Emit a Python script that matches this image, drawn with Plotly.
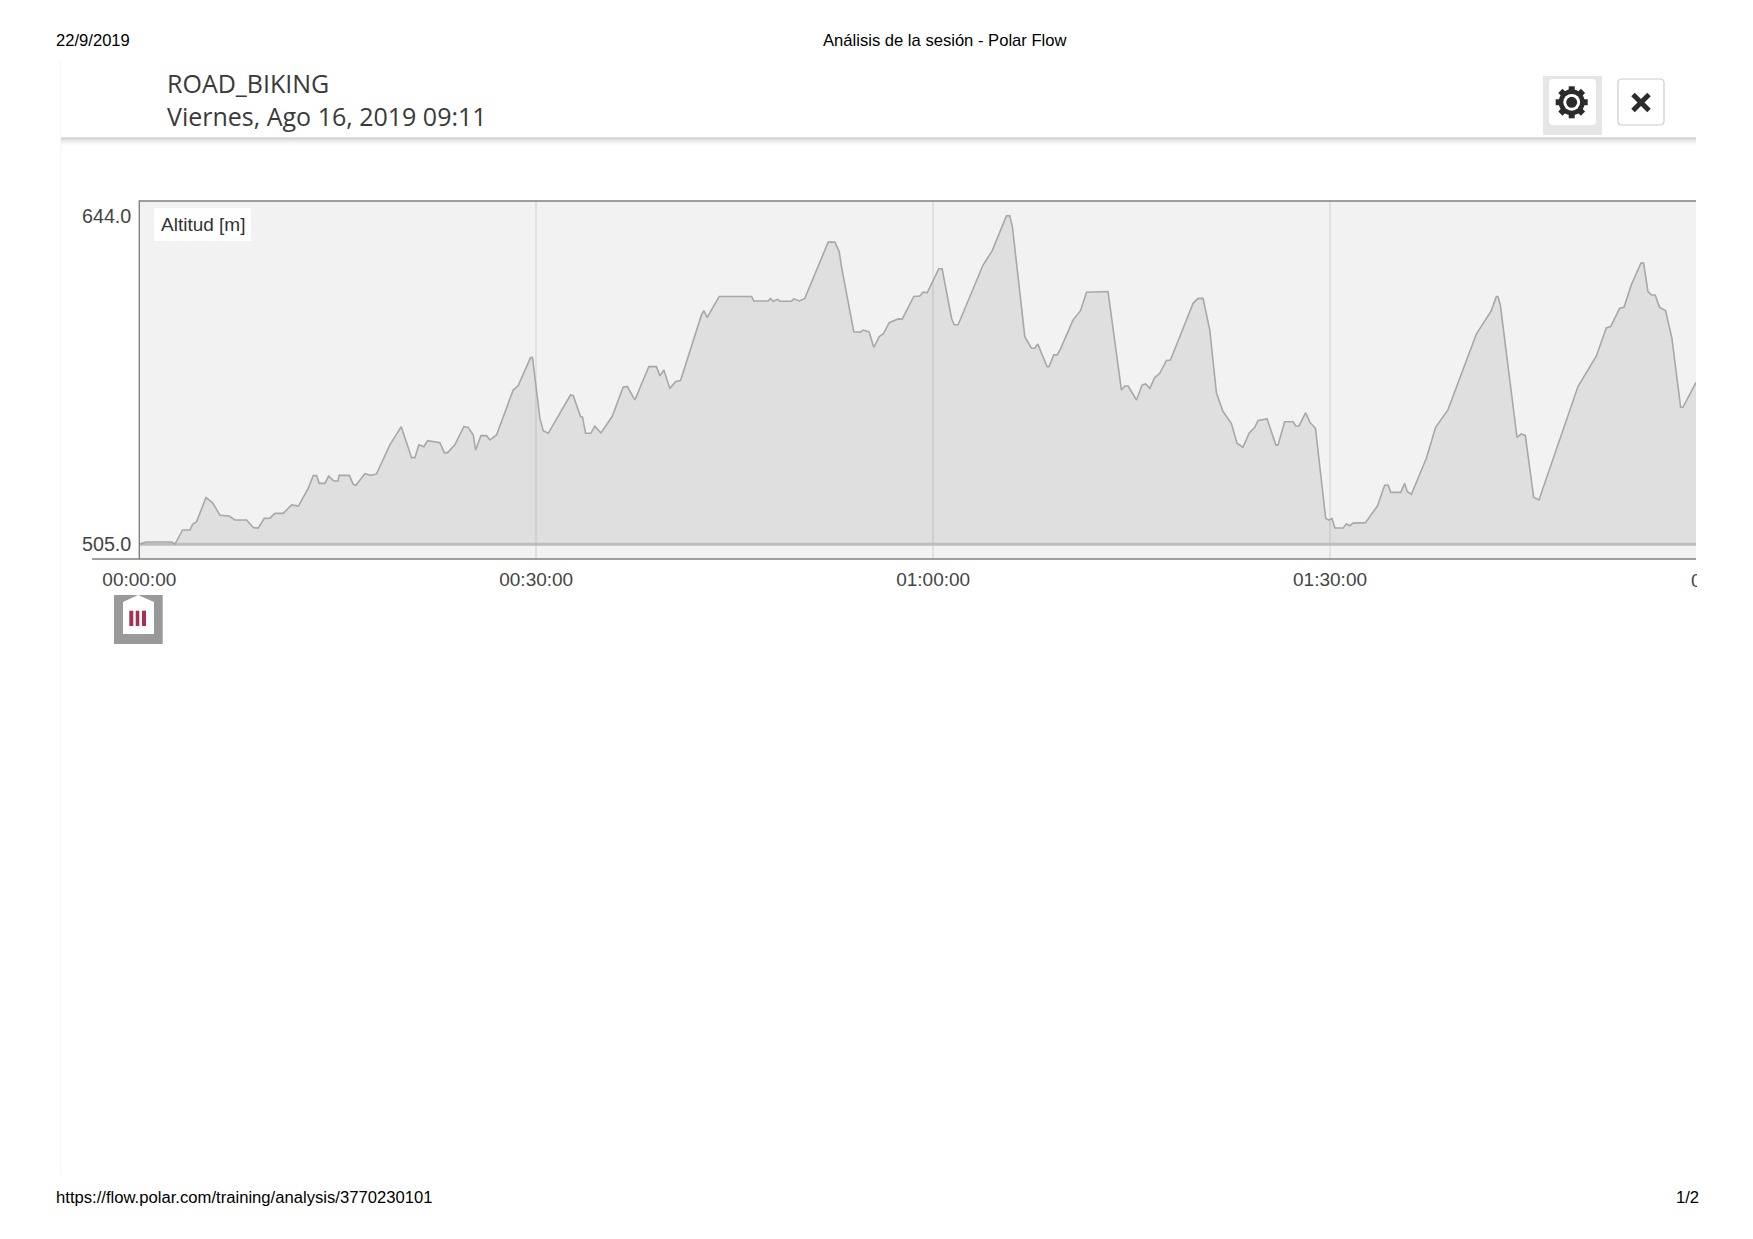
import plotly.graph_objects as go

W, H = 1753, 1239

# ---- chart data: elapsed time (minutes) and altitude (m) ----
minutes = [0,0.50,2.44,2.70,3.27,3.83,4.03,4.33,5.04,5.54,6.10,6.80,7.23,8.11,8.61,8.99,9.45,9.87,10.25,10.88,
 11.51,12.02,12.77,13.15,13.40,13.60,14.03,14.31,14.71,15.01,15.11,15.87,16.17,16.37,17.05,17.48,17.93,18.94,19.80,20.58,
 20.83,21.13,21.51,21.79,22.72,23.05,23.30,23.85,24.53,24.86,25.24,25.42,25.82,26.25,26.50,27.00,28.26,28.64,29.57,29.72,
 30.28,30.53,30.91,32.59,32.80,33.35,33.50,33.73,34.13,34.43,34.89,35.74,36.57,36.88,37.46,38.51,39.09,39.35,39.65,40.10,
 40.55,40.91,42.49,42.67,42.92,43.83,46.27,46.45,47.53,47.71,47.91,48.24,48.42,49.29,49.47,49.88,50.30,52.07,52.57,52.90,
 53.07,54.00,54.51,54.71,55.16,55.52,55.92,56.23,56.68,57.36,57.66,58.54,58.99,59.24,59.55,60.43,60.68,61.39,61.59,61.89,
 63.78,64.46,65.54,65.79,65.99,66.93,67.43,67.68,67.91,68.61,68.76,69.12,69.37,69.62,70.58,71.14,71.59,73.22,74.23,74.49,
 74.74,75.37,75.80,76.07,76.38,76.75,77.13,77.63,77.94,79.65,80.03,80.40,80.91,81.41,81.91,82.54,82.97,83.42,83.88,84.31,
 84.56,85.24,85.90,86.07,86.57,87.21,87.41,87.66,88.16,88.47,88.90,89.67,89.90,90.15,90.36,90.99,91.24,91.49,91.74,92.67,
 93.58,94.13,94.39,94.59,95.34,95.64,95.84,96.15,97.28,97.98,98.91,101.06,102.19,102.57,102.69,102.87,104.13,104.45,104.76,105.39,
 105.79,108.74,110.13,110.88,111.21,111.89,112.22,112.77,113.50,113.70,114.03,114.28,114.58,114.91,115.36,115.84,116.50,116.67,117.66]
altitude = [505.0,506.0,506.0,505.1,511.1,511.1,513.5,514.6,524.8,522.6,517.3,517.0,515.3,515.3,512.1,511.9,516.0,516.1,518.1,518.1,
 521.7,521.2,528.7,534.1,534.1,530.8,530.8,533.9,531.8,531.8,534.2,534.2,530.4,530.0,534.9,534.2,534.8,547.1,554.8,541.7,
 541.7,547.1,546.3,548.9,548.0,543.8,543.8,547.1,554.8,554.5,551.3,544.9,551.0,551.0,549.2,551.3,570.3,572.2,584.0,584.0,
 558.3,553.1,552.0,568.2,567.9,559.1,558.8,552.0,552.0,555.0,552.1,559.1,571.5,571.8,566.1,580.2,580.2,576.3,578.8,571.0,
 573.9,574.3,602.1,603.9,601.0,609.9,609.9,608.0,608.0,609.1,607.9,608.7,607.9,607.9,608.9,608.0,609.1,632.9,632.9,628.9,
 622.6,595.0,594.8,595.7,594.9,588.3,592.9,594.0,598.8,600.4,600.3,609.9,610.1,611.7,611.5,621.6,621.6,600.7,597.9,597.9,
 623.3,629.2,644.0,644.0,639.5,592.9,588.0,588.0,589.8,580.2,580.2,585.2,585.2,587.6,600.0,603.9,611.7,612.0,570.3,572.0,
 572.0,566.1,572.5,572.9,571.0,575.6,577.4,582.8,583.0,607.0,609.1,609.1,595.7,569.2,561.2,556.2,547.8,546.1,552.0,554.5,
 557.4,558.1,547.1,547.1,556.9,556.9,555.1,555.1,560.7,556.7,554.1,516.0,515.3,515.9,511.9,511.9,513.7,512.9,514.0,514.2,
 521.2,530.0,530.0,527.0,527.0,530.8,527.3,526.2,541.4,554.5,561.9,594.0,603.9,609.9,609.9,606.3,550.3,551.7,551.1,524.9,
 523.8,571.8,584.7,596.6,597.2,604.9,605.3,614.8,624.0,624.0,612.0,610.6,610.4,605.3,603.9,592.2,563.0,563.0,573.5]
baseline_minutes = [0, 117.66]
baseline_alt = [505, 505]
x_tick_minutes = [0, 30, 60, 90]
x_tick_labels = ["00:00:00", "00:30:00", "01:00:00", "01:30:00"]
y_tick_values = [505, 644]
y_tick_labels = ["505.0", "644.0"]
clipped_tick_label = "02:00:00"

SANS = "Liberation Sans"
OPEN = "Open Sans"

def fx(p): return p / W
def fy(p): return 1 - p / H

shapes, annots = [], []

def rect(x0, y0, x1, y1, fill, line=None, lw=0, layer="above"):
    shapes.append(dict(type="rect", xref="paper", yref="paper", x0=fx(x0), x1=fx(x1), y0=fy(y0), y1=fy(y1),
                       fillcolor=fill, line=dict(color=line or fill, width=lw), layer=layer))

def path(d, fill=None, line=None, lw=0):
    shapes.append(dict(type="path", xref="paper", yref="paper", path=d, fillcolor=fill or "rgba(0,0,0,0)",
                       line=dict(color=line or "rgba(0,0,0,0)", width=lw), layer="above"))

def P(x, y): return f"{fx(x):.6f},{fy(y):.6f}"

def poly(pts): return "M" + " L".join(P(*p) for p in pts) + " Z"

def text(x, y, s, size, color="#000", font=SANS, xanchor="left", **kw):
    annots.append(dict(xref="paper", yref="paper", x=fx(x), y=fy(y), text=s, showarrow=False, xanchor=xanchor,
                       yanchor="middle", borderpad=0, font=dict(family=font, size=size, color=color), **kw))

# print header / footer
text(54.5, 40, "22/9/2019", 16.6)
text(945, 40, "Análisis de la sesión - Polar Flow", 16.6, xanchor="center")
text(54.5, 1197.5, "https://flow.polar.com/training/analysis/3770230101", 16.65)
text(1700, 1197.5, "1/2", 16.6, xanchor="right")

# page edge and title bar shadow
rect(60, 60, 61, 1175, "#f7f7f7")
for i, c in enumerate(["#bdbdbd", "#cbcbcb", "#d8d8d8", "#e2e2e2", "#eaeaea", "#f1f1f1", "#f6f6f6", "#fbfbfb"]):
    rect(61, 137.5 + i, 1696, 138.5 + i, c)
text(166, 83, "ROAD_BIKING", 25, "#3a3a3a", OPEN)
text(166, 116, "Viernes, Ago 16, 2019 09:11", 25, "#3a3a3a", OPEN)

# settings button
rect(1543, 76, 1602, 135, "#e6e6e6")
shapes.append(dict(type="path", xref="paper", yref="paper", layer="above", fillcolor="#ffffff", line=dict(width=0),
    path="M" + P(1553,79) + " L" + P(1592,79) + " Q" + P(1596,79) + " " + P(1596,83) + " L" + P(1596,121) + " Q" + P(1596,125) + " " + P(1592,125)
         + " L" + P(1553,125) + " Q" + P(1549,125) + " " + P(1549,121) + " L" + P(1549,83) + " Q" + P(1549,79) + " " + P(1553,79) + " Z"))
cx, cy = 1571.7, 102.3
def circle(r, c):
    shapes.append(dict(type="circle", xref="paper", yref="paper", x0=fx(cx-r), x1=fx(cx+r), y0=fy(cy-r), y1=fy(cy+r),
                       fillcolor=c, line=dict(width=0), layer="above"))
a = 0.7071
for dx, dy in [(1,0),(0,1),(a,a),(a,-a)]:
    nx, ny = -dy, dx
    L, w = 16, 3
    path(poly([(cx+dx*L+nx*w, cy+dy*L+ny*w), (cx+dx*L-nx*w, cy+dy*L-ny*w),
               (cx-dx*L-nx*w, cy-dy*L-ny*w), (cx-dx*L+nx*w, cy-dy*L+ny*w)]), fill="#2b2b2b")
circle(13, "#2b2b2b"); circle(8.4, "#ffffff"); circle(5.5, "#2b2b2b")

# close button
shapes.append(dict(type="path", xref="paper", yref="paper", layer="above", fillcolor="#ffffff", line=dict(color="#cccccc", width=1.2),
    path="M" + P(1622,79) + " L" + P(1660,79) + " Q" + P(1664,79) + " " + P(1664,83) + " L" + P(1664,121) + " Q" + P(1664,125) + " " + P(1660,125)
         + " L" + P(1622,125) + " Q" + P(1618,125) + " " + P(1618,121) + " L" + P(1618,83) + " Q" + P(1618,79) + " " + P(1622,79) + " Z"))
bx, by = 1641, 102.5
path("M" + P(bx-8, by-8) + " L" + P(bx+8, by+8), line="#2b2b2b", lw=5)
path("M" + P(bx-8, by+8) + " L" + P(bx+8, by-8), line="#2b2b2b", lw=5)

# plot frame
PL, PR, PT, PB = 139.3, 1696, 201, 559
for x0, y0, x1, y1 in [(PL-0.7, PT-0.7, PL+0.7, PB), (PL, PT-0.7, PR, PT+0.7), (92, PB-0.7, PR, PB+0.7)]:
    rect(x0, y0, x1, y1, "#808080")

# series label
rect(154, 208, 251, 241, "#ffffff")
text(159.5, 224.5, "Altitud [m]", 19, "#333333")

# tick label cut by the page edge
text(1690, 580.5, clipped_tick_label, 19, "#444444", width=6, align="left")

# session marker
rect(114, 595, 162.7, 644, "#999999")
path(poly([(123, 634), (123, 602), (138, 595), (154, 602), (154, 634)]), fill="#ffffff")
for x0, x1 in [(129.3, 133.3), (135.7, 139.3), (142, 146)]:
    rect(x0, 610.7, x1, 626, "#a8304f")

fig = go.Figure()
fig.add_trace(go.Scatter(x=baseline_minutes, y=baseline_alt, mode="lines", hoverinfo="skip",
                         line=dict(color="#bdbdbd", width=3)))
fig.add_trace(go.Scatter(x=minutes, y=altitude, mode="lines", fill="tonexty", fillcolor="rgba(0,0,0,0.08)",
                         line=dict(color="#a8a8a8", width=1.6, shape="linear")))

fig.update_layout(
    width=W, height=H, autosize=False, showlegend=False,
    margin=dict(l=0, r=0, t=0, b=0), paper_bgcolor="#ffffff", plot_bgcolor="#f2f2f2",
    shapes=shapes, annotations=annots,
    xaxis=dict(domain=[fx(PL), fx(PR)], range=[0, 117.66], tickmode="array", tickvals=x_tick_minutes, automargin=False,
               ticktext=x_tick_labels, showgrid=True, gridcolor="#e2e2e2", gridwidth=2, zeroline=False, showline=False,
               ticks="", ticklabelstandoff=7, tickfont=dict(family=SANS, size=19, color="#444444")),
    yaxis=dict(domain=[fy(PB), fy(PT)], range=[498.8, 650.3], tickmode="array", tickvals=y_tick_values, automargin=False,
               ticktext=y_tick_labels, showgrid=False, zeroline=False, showline=False,
               ticks="", ticklabelstandoff=7, tickfont=dict(family=SANS, size=19.7, color="#444444")),
)

fig.write_html("out.html", config={"displayModeBar": False},
               post_script="document.body.style.margin='0';document.documentElement.style.overflow='hidden';")
